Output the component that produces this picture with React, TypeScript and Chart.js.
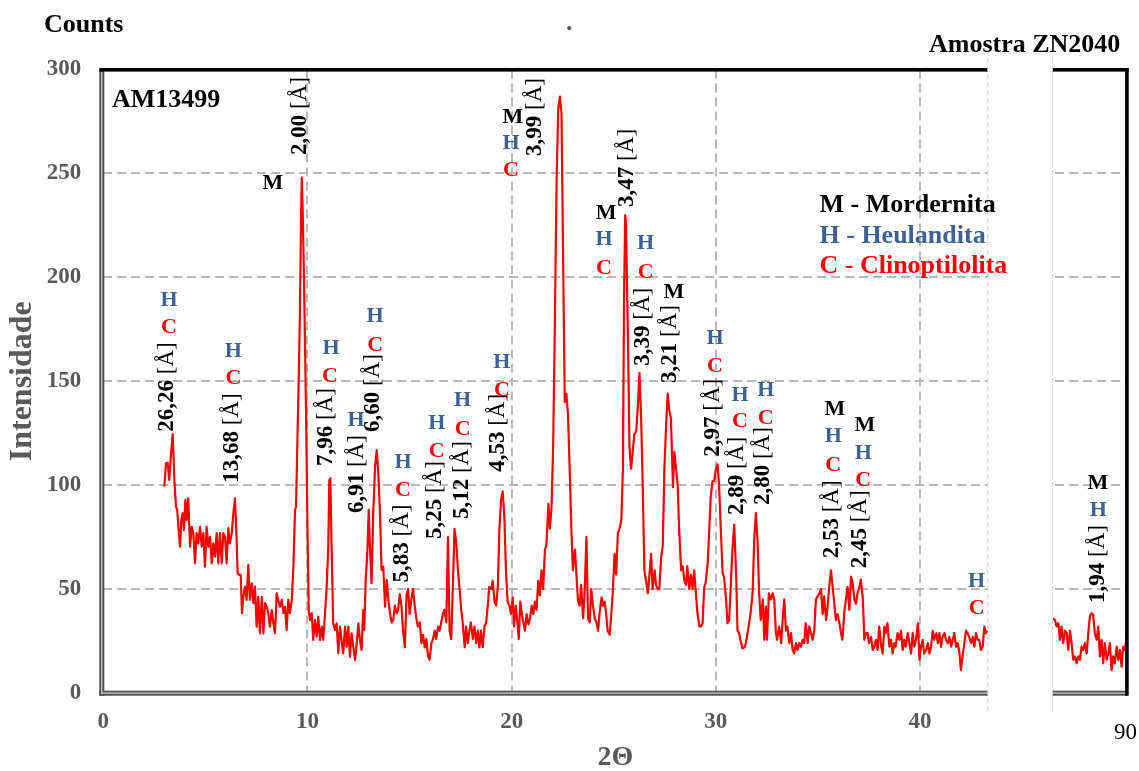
import React, { useEffect, useRef } from 'react';
import { Chart, registerables } from 'chart.js';

Chart.register(...registerables);

const SERIF = "'Liberation Serif', 'Times New Roman', Times, serif";

// ---------- data (2θ, counts) ----------
const scanLow: [number, number][] = [
  [2.99, 99.3], [3.07, 110.5], [3.15, 110.8], [3.23, 102.5], [3.32, 115.3], [3.4, 124.6], [3.48, 102.5], [3.56, 89.7],
  [3.62, 88.1], [3.69, 78.4], [3.76, 70.4], [3.82, 83.3], [3.89, 86.5], [3.95, 78.4], [4.02, 92.9], [4.08, 83.3],
  [4.16, 93.7], [4.25, 70.4], [4.33, 80], [4.41, 76.9], [4.49, 62.4], [4.57, 76.9], [4.65, 72], [4.74, 80],
  [4.82, 70.4], [4.9, 76.9], [4.98, 60.8], [5.06, 80], [5.14, 70.4], [5.23, 75.2], [5.31, 62.4], [5.39, 72],
  [5.47, 65.6], [5.55, 76.9], [5.63, 62.4], [5.71, 76.9], [5.8, 62.4], [5.88, 76.9], [5.96, 75.2], [6.04, 62.4],
  [6.12, 79.3], [6.2, 72], [6.29, 76.9], [6.37, 86.5], [6.45, 93.7], [6.53, 73.6], [6.58, 57.6], [6.66, 56.8],
  [6.73, 56.8], [6.79, 38.4], [6.86, 46.3], [6.94, 51.2], [7.02, 44.8], [7.1, 61.6], [7.18, 44.8], [7.27, 52.8],
  [7.35, 43.2], [7.43, 51.2], [7.51, 31.9], [7.59, 46.3], [7.67, 28.7], [7.76, 46.3], [7.84, 28.7], [7.92, 43.2],
  [8.0, 41.5], [8.08, 38.4], [8.16, 31.9], [8.25, 39.9], [8.33, 33.5], [8.41, 28.7], [8.49, 48], [8.57, 44.8],
  [8.65, 41.5], [8.74, 44.8], [8.82, 38.4], [8.9, 41.5], [8.98, 30.3], [9.06, 44.8], [9.14, 38.4], [9.23, 44.8],
  [9.31, 60.8], [9.39, 88.1], [9.44, 89.7], [9.5, 118.5], [9.57, 150.6], [9.63, 182.7], [9.68, 225], [9.72, 248],
  [9.77, 230], [9.83, 198.8], [9.93, 134.6], [9.99, 86.5], [10.06, 39.9], [10.12, 35.1], [10.21, 38.4], [10.28, 25.5],
  [10.37, 35.1], [10.45, 27.1], [10.53, 36.7], [10.61, 25.5], [10.7, 31.9], [10.77, 25.5], [10.86, 38.4], [10.94, 51.2],
  [11.02, 70.4], [11.07, 102.5], [11.12, 103.3], [11.18, 70.4], [11.26, 33.5], [11.35, 30.3], [11.43, 33.5], [11.51, 19.1],
  [11.59, 31.9], [11.67, 25.5], [11.75, 19.1], [11.84, 31.9], [11.92, 22.3], [12.0, 31.9], [12.08, 17.5], [12.16, 28.7],
  [12.24, 22.3], [12.33, 15.9], [12.41, 23.9], [12.49, 33.5], [12.57, 25.5], [12.65, 20.7], [12.73, 39.9], [12.78, 30.3],
  [12.85, 54.4], [12.93, 67.2], [13.0, 88.1], [13.06, 70.4], [13.14, 52.8], [13.22, 86.5], [13.31, 108.9], [13.39, 116.9],
  [13.47, 105.7], [13.55, 86.5], [13.63, 59.2], [13.71, 60.8], [13.8, 41.5], [13.88, 54.4], [13.96, 44.8], [14.04, 38.4],
  [14.12, 34], [14.2, 35.1], [14.28, 42], [14.37, 38.4], [14.44, 40], [14.52, 47.6], [14.6, 42], [14.68, 30],
  [14.77, 22], [14.85, 47], [14.93, 50], [15.0, 38], [15.1, 46], [15.17, 50], [15.25, 42], [15.33, 36],
  [15.4, 32], [15.5, 34], [15.58, 24], [15.66, 28], [15.74, 22], [15.82, 26], [15.9, 18], [15.98, 16],
  [16.07, 24], [16.15, 26], [16.23, 30], [16.3, 26], [16.4, 32], [16.47, 30], [16.55, 34], [16.63, 38],
  [16.7, 40], [16.8, 34], [16.88, 75], [16.96, 30], [17.04, 26], [17.12, 51], [17.2, 79], [17.28, 73],
  [17.37, 59], [17.45, 50], [17.53, 40], [17.6, 34], [17.7, 22], [17.77, 32], [17.85, 24], [17.93, 30],
  [18.0, 34], [18.1, 26], [18.18, 32], [18.26, 24], [18.34, 30], [18.42, 22], [18.5, 30], [18.58, 22],
  [18.67, 32], [18.75, 34], [18.83, 42], [18.9, 51], [19.0, 50], [19.07, 54], [19.16, 44], [19.24, 42],
  [19.32, 51], [19.4, 79], [19.48, 93], [19.56, 97], [19.64, 85], [19.72, 59], [19.8, 44], [19.89, 42],
  [19.97, 38], [20.05, 46], [20.12, 32], [20.2, 42], [20.28, 34], [20.35, 26], [20.42, 44], [20.5, 38],
  [20.57, 34], [20.65, 30], [20.73, 38], [20.82, 33], [20.9, 36], [20.98, 42], [21.06, 38], [21.14, 44],
  [21.22, 40], [21.3, 54], [21.38, 47], [21.46, 59], [21.54, 50], [21.63, 69], [21.7, 71], [21.8, 91],
  [21.87, 79], [21.95, 89], [22.03, 118], [22.1, 167], [22.2, 246], [22.28, 281], [22.36, 287], [22.44, 279],
  [22.5, 226], [22.6, 140], [22.68, 144], [22.76, 134], [22.85, 104.5], [22.93, 77], [23.0, 59], [23.1, 69],
  [23.17, 57], [23.25, 44], [23.33, 42], [23.4, 52], [23.5, 36], [23.58, 50], [23.66, 75], [23.74, 36],
  [23.82, 34], [23.9, 50], [23.98, 42], [24.07, 36], [24.15, 34], [24.23, 30], [24.3, 38], [24.4, 46],
  [24.47, 42], [24.55, 44], [24.63, 38], [24.7, 30], [24.8, 28], [24.88, 38], [24.96, 50], [25.04, 67],
  [25.12, 57], [25.2, 77], [25.28, 79], [25.37, 83], [25.45, 108], [25.5, 187], [25.56, 230], [25.6, 226],
  [25.7, 167], [25.77, 118], [25.85, 108], [25.93, 116], [26.0, 124], [26.1, 126], [26.18, 138], [26.26, 154],
  [26.34, 132], [26.42, 99], [26.5, 59], [26.58, 54], [26.67, 48], [26.75, 57], [26.83, 67], [26.9, 50],
  [27.0, 59], [27.07, 52], [27.15, 50], [27.23, 50], [27.32, 65], [27.4, 71], [27.48, 108], [27.56, 128],
  [27.64, 144], [27.72, 136], [27.8, 132], [27.9, 99], [27.97, 116], [28.05, 108], [28.13, 100], [28.2, 79],
  [28.3, 59], [28.37, 61], [28.46, 54], [28.54, 52], [28.6, 61], [28.7, 50], [28.78, 57], [28.86, 50],
  [28.94, 59], [29.02, 48], [29.1, 38], [29.2, 32], [29.27, 32], [29.35, 33.6], [29.43, 51], [29.5, 53],
  [29.6, 62.5], [29.67, 77], [29.75, 94.7], [29.84, 102], [29.92, 102], [30.0, 107.6], [30.08, 110], [30.16, 99.5],
  [30.25, 77], [30.33, 57.7], [30.4, 56], [30.5, 45], [30.57, 33.6], [30.65, 35], [30.74, 53], [30.8, 67],
  [30.9, 81], [31.0, 54.5], [31.06, 30], [31.14, 28.8], [31.2, 25.6], [31.3, 21.5], [31.4, 22], [31.47, 24],
  [31.55, 28.8], [31.63, 33.6], [31.7, 38.4], [31.8, 48], [31.88, 73.8], [31.96, 86.6], [32.04, 73.8], [32.12, 48],
  [32.2, 35], [32.3, 45], [32.37, 25.6], [32.45, 41.6], [32.5, 25.6], [32.6, 48], [32.7, 45], [32.78, 48],
  [32.86, 45], [32.94, 28.8], [33.0, 25.6], [33.1, 32], [33.2, 24], [33.27, 35], [33.35, 45], [33.43, 30],
  [33.5, 32], [33.6, 24], [33.68, 28.8], [33.76, 20.7], [33.84, 19], [33.92, 24], [34.0, 20.7], [34.08, 24],
  [34.17, 22.3], [34.25, 25.6], [34.33, 24], [34.4, 33.6], [34.5, 24], [34.57, 32], [34.66, 28.8], [34.74, 25.6],
  [34.82, 30], [34.9, 45], [34.98, 46.5], [35.07, 48], [35.15, 50], [35.23, 38], [35.3, 46.5], [35.4, 35],
  [35.47, 41.6], [35.55, 51], [35.64, 59], [35.72, 51], [35.8, 43], [35.88, 35], [35.96, 38], [36.05, 33.6],
  [36.13, 28.8], [36.2, 25.6], [36.3, 40], [36.37, 45], [36.45, 51], [36.54, 40], [36.62, 56], [36.7, 53],
  [36.78, 45], [36.86, 43], [36.94, 48], [37.03, 51], [37.1, 54.5], [37.2, 45], [37.27, 25.6], [37.35, 28.8],
  [37.43, 28.8], [37.5, 24], [37.6, 27], [37.68, 20.7], [37.76, 22.3], [37.84, 25.6], [37.92, 20.7], [38.0, 32],
  [38.1, 22.3], [38.17, 19], [38.25, 32], [38.33, 28.8], [38.4, 33.6], [38.5, 22.3], [38.58, 25.6], [38.66, 19],
  [38.74, 24], [38.8, 22.3], [38.9, 28.8], [38.99, 25.6], [39.07, 30], [39.15, 20.7], [39.23, 25.6], [39.3, 22.3],
  [39.4, 28.8], [39.48, 24], [39.56, 19], [39.64, 28.8], [39.72, 22.3], [39.8, 25.6], [39.9, 33.6], [39.97, 16],
  [40.05, 22.3], [40.13, 25.6], [40.2, 19], [40.3, 20.7], [40.38, 24], [40.46, 19], [40.54, 22.3], [40.62, 30],
  [40.7, 25.6], [40.8, 28.8], [40.87, 24], [40.95, 28.8], [41.03, 22.3], [41.1, 27], [41.2, 28.8], [41.27, 25.6],
  [41.36, 24], [41.44, 27], [41.52, 22.3], [41.6, 25.6], [41.68, 28.8], [41.76, 22.3], [41.85, 24], [41.93, 19],
  [42.0, 11], [42.1, 19], [42.17, 24], [42.25, 30], [42.33, 28.8], [42.4, 27], [42.5, 24], [42.58, 27],
  [42.66, 22.3], [42.74, 28.8], [42.82, 25.6], [42.9, 25.6], [42.98, 20.7], [43.07, 22.3], [43.15, 32], [43.22, 28.8],
  [43.3, 30],
];

const scanHigh: [number, number][] = [
  [46.52, 36], [46.61, 35], [46.69, 32], [46.77, 33.6], [46.85, 25.6], [46.93, 32], [47.01, 24], [47.1, 30],
  [47.18, 28.8], [47.26, 20.7], [47.34, 30], [47.42, 24], [47.5, 16], [47.59, 17.6], [47.67, 14.3], [47.75, 17.6],
  [47.83, 16], [47.91, 22.3], [47.99, 20.7], [48.07, 24], [48.16, 19], [48.24, 28.8], [48.32, 37], [48.4, 38.4],
  [48.48, 37.6], [48.56, 28.8], [48.65, 25.6], [48.73, 32], [48.81, 17.6], [48.89, 25.6], [48.97, 14.3], [49.05, 24],
  [49.14, 16], [49.22, 19], [49.3, 24], [49.38, 11], [49.46, 17.6], [49.54, 14.3], [49.63, 22.3], [49.71, 16],
  [49.79, 20.7], [49.87, 12.7], [49.95, 22.3], [50.03, 20.7], [50.12, 26.4],
];

// axis
const xMin = 0;
const xMax = 50.16;
const xTickValues = [0, 10, 20, 30, 40];
const xEndLabel = '90';
const axisBreak = [43.32, 46.48];
const yMin = 0;
const yMax = 300;
const yStep = 50;

// peak d-spacing labels (anchor = 2θ, intensity at label start)
const peakD = ['26,26', '13,68', '2,00', '7,96', '6,91', '6,60', '5,83', '5,25', '5,12', '4,53',
  '3,99', '3,47', '3,39', '3,21', '2,97', '2,89', '2,80', '2,53', '2,45', '1,94'];
const peakLabelX = [3.1, 6.29, 9.63, 10.91, 12.42, 13.22, 14.61, 16.24, 17.55, 19.34,
  21.14, 25.63, 26.44, 27.76, 29.87, 31.02, 32.32, 35.67, 37.06, 48.73];
const peakLabelY = [125.7, 101.2, 258.9, 109.2, 86.6, 125.6, 53.2, 74.1, 83.7, 106.4,
  258.4, 233.9, 157.4, 149.2, 113.7, 85.7, 90.5, 64.8, 60.0, 43.3];

// phase markers
const phaseLetter = ['M',
  'H', 'C', 'H', 'C', 'H', 'C', 'H', 'H', 'C', 'H', 'C', 'H', 'C', 'H', 'C', 'H', 'C',
  'M', 'H', 'C', 'M', 'H', 'C', 'H', 'C', 'M', 'H', 'C', 'H', 'C', 'H', 'C',
  'M', 'H', 'C', 'M', 'H', 'C', 'H', 'C', 'M', 'H'];
const phaseX = [8.31,
  3.22, 3.22, 6.37, 6.37, 11.15, 11.1, 12.38, 13.31, 13.31, 14.68, 14.68, 16.33, 16.33, 17.6, 17.6, 19.52, 19.52,
  20.06, 19.97, 19.97, 24.62, 24.52, 24.52, 26.56, 26.56, 27.95, 29.96, 29.96, 31.18, 31.18, 32.44, 32.44,
  35.83, 35.75, 35.75, 37.3, 37.22, 37.22, 42.77, 42.77, 48.71, 48.73];
const phaseY = [245.4,
  189.1, 175.9, 164.2, 151.4, 165.9, 152.2, 131.4, 181.1, 167.5, 111.2, 97.4, 129.9, 116.5, 140.6, 126.9, 159.3, 145.8,
  277.2, 264.3, 251.7, 231.0, 218.2, 204.5, 216.2, 202.6, 193.0, 170.7, 157.0, 143.4, 130.6, 145.8, 132.2,
  136.5, 123.3, 109.7, 129.0, 115.4, 102.5, 53.6, 40.8, 101.1, 88.1];

const legendLines = ['M - Mordernita', 'H - Heulandita', 'C - Clinoptilolita'];
const phaseColor: Record<string, string> = { M: '#000000', H: '#3C6195', C: '#FF0000' };

const GRAY = '#595959';
const GRID = '#B8B8B8';

const decorPlugin = {
  id: 'decor',
  afterDraw(chart: any) {
    const { ctx, chartArea: a, scales } = chart;
    const xs = scales.x;
    const ys = scales.y;
    const L = a.left, R = a.right, T = a.top, B = a.bottom;
    ctx.save();

    // left & bottom frame (double gray)
    ctx.fillStyle = '#505050';
    ctx.fillRect(L - 4, T, 5, B - T + 2.7);
    ctx.fillRect(L - 4, B - 2.3, R - L + 4, 5);
    ctx.fillStyle = '#c4c4c4';
    ctx.fillRect(L - 2.3, T + 2, 1.4, B - T - 1.4);
    ctx.fillRect(L - 2.3, B - 0.6, R - L + 2.3, 1.4);
    // top & right frame (black)
    ctx.fillStyle = '#000000';
    ctx.fillRect(L - 4, T - 1.5, R - L + 5.2, 3.6);
    ctx.fillRect(R - 2.4, T - 1.5, 3.6, B - T + 4.2);

    // axis break
    const gL = xs.getPixelForValue(axisBreak[0]);
    const gR = xs.getPixelForValue(axisBreak[1]);
    ctx.fillStyle = '#ffffff';
    ctx.fillRect(gL, T - 8, gR - gL, B - T + 16);
    ctx.strokeStyle = '#d2d2d2';
    ctx.lineWidth = 1.2;
    ctx.setLineDash([5, 3]);
    [gL, gR].forEach((gx) => {
      ctx.beginPath();
      ctx.moveTo(gx, T - 11.5);
      ctx.lineTo(gx, B + 19);
      ctx.stroke();
    });
    ctx.setLineDash([]);

    // peak labels (rotated)
    ctx.fillStyle = '#000000';
    peakD.forEach((d, i) => {
      const px = xs.getPixelForValue(peakLabelX[i]);
      const py = ys.getPixelForValue(peakLabelY[i]);
      ctx.save();
      ctx.translate(px, py);
      ctx.rotate(-Math.PI / 2);
      ctx.textAlign = 'left';
      ctx.textBaseline = 'middle';
      ctx.font = `bold 23px ${SERIF}`;
      ctx.fillText(d, 0, 0);
      const w = ctx.measureText(d).width;
      ctx.font = `23px ${SERIF}`;
      ctx.fillText(' [Å]', w, 0);
      ctx.restore();
    });

    // phase letters
    ctx.textAlign = 'center';
    ctx.textBaseline = 'middle';
    ctx.font = `bold 22px ${SERIF}`;
    phaseLetter.forEach((ch, i) => {
      ctx.fillStyle = phaseColor[ch];
      ctx.fillText(ch, xs.getPixelForValue(phaseX[i]), ys.getPixelForValue(phaseY[i]));
    });

    // texts
    ctx.textAlign = 'left';
    ctx.textBaseline = 'alphabetic';
    ctx.font = `bold 26px ${SERIF}`;
    ctx.fillStyle = '#000000';
    ctx.fillText('Counts', 44, 32);
    ctx.fillText('Amostra ZN2040', 929, 52);
    ctx.fillText('AM13499', L + 8.7, T + 37.2);
    const legendBase = [212, 243, 273];
    legendLines.forEach((t, i) => {
      ctx.fillStyle = phaseColor[t[0]];
      ctx.fillText(t, 819.5, legendBase[i]);
    });
    ctx.fillStyle = GRAY;
    ctx.fillText('.', 566, 30);

    ctx.fillStyle = '#000000';
    ctx.font = `23px ${SERIF}`;
    ctx.textAlign = 'center';
    ctx.fillText(xEndLabel, 1125.5, 739);

    ctx.restore();
  },
};

export default function App() {
  const ref = useRef<HTMLCanvasElement>(null);

  useEffect(() => {
    const points: { x: number; y: number | null }[] = [
      ...scanLow.map(([t, c]) => ({ x: t, y: c })),
      { x: (axisBreak[0] + axisBreak[1]) / 2, y: null },
      ...scanHigh.map(([t, c]) => ({ x: t, y: c })),
    ];
    const chart = new Chart(ref.current as HTMLCanvasElement, {
      type: 'line',
      data: {
        datasets: [
          {
            label: 'Counts',
            data: points as any,
            borderColor: '#FF0000',
            borderWidth: 2.2,
            borderJoinStyle: 'round',
            pointRadius: 0,
            tension: 0,
            spanGaps: false,
            fill: false,
          },
        ],
      },
      options: {
        animation: false,
        responsive: false,
        maintainAspectRatio: false,
        devicePixelRatio: 1,
        layout: { padding: { left: 0, right: 11.5, top: 69.5, bottom: 0 } },
        plugins: { legend: { display: false }, tooltip: { enabled: false }, title: { display: false } },
        scales: {
          x: {
            type: 'linear',
            min: xMin,
            max: xMax,
            afterBuildTicks: (axis: any) => {
              axis.ticks = xTickValues.map((v) => ({ value: v }));
            },
            afterFit: (scale: any) => {
              scale.height = 78;
            },
            grid: {
              color: (c: any) => (c.tick && c.tick.value === 0 ? 'rgba(0,0,0,0)' : GRID),
              lineWidth: 2,
              drawTicks: false,
            },
            border: { display: false, dash: [9, 5] },
            ticks: {
              color: GRAY,
              font: { family: SERIF, size: 23, weight: 'bold', lineHeight: 1 },
              padding: 18,
              maxRotation: 0,
              autoSkip: false,
            },
            title: {
              display: true,
              text: '2Θ',
              color: GRAY,
              font: { family: SERIF, size: 28, weight: 'bold', lineHeight: 1 },
              padding: { top: 0, bottom: -1 },
            },
          },
          y: {
            type: 'linear',
            min: yMin,
            max: yMax,
            afterFit: (scale: any) => {
              scale.width = 103.3;
            },
            grid: {
              color: (c: any) =>
                c.tick && (c.tick.value === yMin || c.tick.value === yMax) ? 'rgba(0,0,0,0)' : GRID,
              lineWidth: 2,
              drawTicks: false,
            },
            border: { display: false, dash: [9, 5] },
            ticks: {
              stepSize: yStep,
              color: GRAY,
              font: { family: SERIF, size: 23, weight: 'bold', lineHeight: 1 },
              padding: 22,
            },
            title: {
              display: true,
              text: 'Intensidade',
              color: GRAY,
              font: { family: SERIF, size: 32, weight: 'bold', lineHeight: 1 },
              padding: { top: 6.5, bottom: 0 },
            },
          },
        },
      } as any,
      plugins: [decorPlugin],
    });
    return () => chart.destroy();
  }, []);

  return (
    <div style={{ position: 'fixed', left: 0, top: 0, width: 1139, height: 771, background: '#ffffff' }}>
      <canvas ref={ref} width={1139} height={771} style={{ display: 'block', width: 1139, height: 771 }} />
    </div>
  );
}
